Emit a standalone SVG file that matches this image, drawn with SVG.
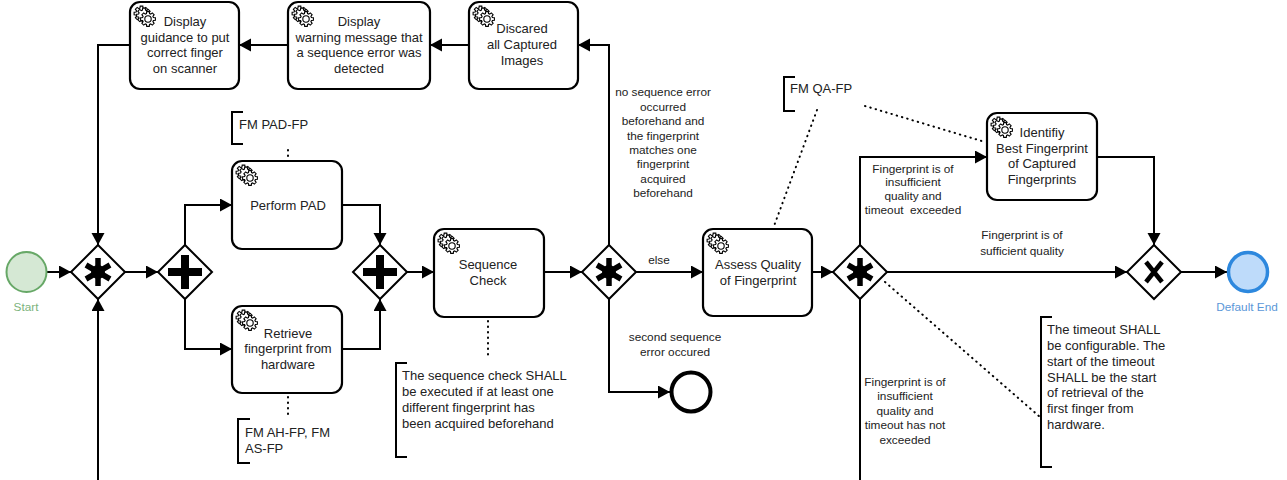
<svg xmlns="http://www.w3.org/2000/svg" width="1287" height="480" viewBox="0 0 1287 480">
<style>
text{font-family:"Liberation Sans",Arial,sans-serif;fill:#222}
.t{font-size:13px;text-anchor:middle}
.l{font-size:11.8px;text-anchor:middle}
.n{font-size:13px}
.task{fill:#fff;stroke:#000;stroke-width:2.2}
.gw{fill:#fff;stroke:#000;stroke-width:2}
.c{fill:none;stroke:#000;stroke-width:2;marker-end:url(#a)}
.d{fill:none;stroke:#000;stroke-width:2;stroke-linecap:round;stroke-dasharray:0.5 5}
.b{fill:none;stroke:#000;stroke-width:2}
</style>
<defs>
<marker id="a" markerUnits="userSpaceOnUse" markerWidth="13" markerHeight="14" refX="12" refY="6.5" orient="auto"><path d="M0 0L12 6.5L0 13Z" fill="#000"/></marker>
<path id="cog" d="M5.38 -1.54L7.39 -1.3L7.39 1.3L5.38 1.54L4.9 2.71L6.14 4.3L4.3 6.14L2.71 4.9L1.54 5.38L1.3 7.39L-1.3 7.39L-1.54 5.38L-2.71 4.9L-4.3 6.14L-6.14 4.3L-4.9 2.71L-5.38 1.54L-7.39 1.3L-7.39 -1.3L-5.38 -1.54L-4.9 -2.71L-6.14 -4.3L-4.3 -6.14L-2.71 -4.9L-1.54 -5.38L-1.3 -7.39L1.3 -7.39L1.54 -5.38L2.71 -4.9L4.3 -6.14L6.14 -4.3L4.9 -2.71Z" fill="#fff" stroke="#000" stroke-width="1.1"/>
<g id="gear"><use href="#cog" x="7.5" y="7.5"/><use href="#cog" x="10" y="9.5"/><use href="#cog" x="14" y="13"/><circle cx="14" cy="13" r="3.2" fill="#fff" stroke="#000" stroke-width="1.1"/></g>
<g id="star"><path d="M0 -14V14M-12 -7L12 7M-12 7L12 -7" fill="none" stroke="#000" stroke-width="5.5"/><circle r="7" fill="#000"/></g>
<path id="plus" d="M-4 -17H4V-4H17V4H4V17H-4V4H-17V-4H-4Z" fill="#000"/>
</defs>

<g id="connectors">
<path class="c" d="M47 272H71"/>
<path class="c" d="M125 272H158"/>
<path class="c" d="M185 245V205H232"/>
<path class="c" d="M185 299V349H232"/>
<path class="c" d="M342 205H380V245"/>
<path class="c" d="M342 349H380V299"/>
<path class="c" d="M407 272H434"/>
<path class="c" d="M544 272H582"/>
<path class="c" d="M636 272H703"/>
<path class="c" d="M812 272H833"/>
<path class="c" d="M887 272H1127"/>
<path class="c" d="M1181 272H1227"/>
<path class="c" d="M860 245V157H987"/>
<path class="c" d="M1097 157H1154V245"/>
<path class="c" d="M609 245V45H578"/>
<path class="c" d="M469 45H430"/>
<path class="c" d="M288 45H239"/>
<path class="c" d="M130 45H98V245"/>
<path class="c" d="M98 480V299"/>
<path class="c" d="M609 299V392H670"/>
<path class="b" d="M860 299V480"/>
<path class="d" d="M288 150V157"/>
<path class="d" d="M288 397V418"/>
<path class="d" d="M488 321V359"/>
<path class="d" d="M817 110L774 226"/>
<path class="d" d="M865 106L985 142"/>
<path class="d" d="M885 282L1040 417"/>
</g>

<g id="start"><circle cx="26.5" cy="272" r="20" fill="#d5e8d4" stroke="#67a867" stroke-width="2"/><text class="l" x="26" y="311" style="fill:#7cb37c">Start</text></g>
<g id="default-end"><circle cx="1248" cy="272" r="19.5" fill="#bedbfa" stroke="#2d88de" stroke-width="3.5"/><text class="l" x="1247" y="311" style="fill:#5b97d8">Default End</text></g>
<g id="end"><circle cx="691" cy="392" r="19.5" fill="#fff" stroke="#000" stroke-width="4"/></g>

<g id="gw-merge"><path class="gw" d="M98 245L125 272L98 299L71 272Z"/><use href="#star" x="98" y="272"/></g>
<g id="gw-split"><path class="gw" d="M185 245L212 272L185 299L158 272Z"/><use href="#plus" x="185" y="272"/></g>
<g id="gw-join"><path class="gw" d="M380 245L407 272L380 299L353 272Z"/><use href="#plus" x="380" y="272"/></g>
<g id="gw-seq"><path class="gw" d="M609 245L636 272L609 299L582 272Z"/><use href="#star" x="609" y="272"/></g>
<g id="gw-quality"><path class="gw" d="M860 245L887 272L860 299L833 272Z"/><use href="#star" x="860" y="272"/></g>
<g id="gw-x"><path class="gw" d="M1154 245L1181 272L1154 299L1127 272Z"/><path d="M1146 262L1162 282M1162 262L1146 282" stroke="#000" stroke-width="4.6" fill="none"/></g>

<g id="t-guidance"><rect class="task" x="130" y="2" width="109" height="87" rx="10"/><use href="#gear" x="134" y="6"/><text class="t" x="185" y="26">Display</text><text class="t" x="185" y="42">guidance to put</text><text class="t" x="185" y="57">correct finger</text><text class="t" x="185" y="73">on scanner</text></g>
<g id="t-warning"><rect class="task" x="288" y="2" width="142" height="87" rx="10"/><use href="#gear" x="292" y="6"/><text class="t" x="359" y="26">Display</text><text class="t" x="359" y="42">warning message that</text><text class="t" x="359" y="57">a sequence error was</text><text class="t" x="359" y="73">detected</text></g>
<g id="t-discard"><rect class="task" x="469" y="2" width="109" height="87" rx="10"/><use href="#gear" x="473" y="6"/><text class="t" x="522" y="33">Discared</text><text class="t" x="522" y="49">all Captured</text><text class="t" x="522" y="65">Images</text></g>
<g id="t-pad"><rect class="task" x="232" y="161" width="110" height="88" rx="10"/><use href="#gear" x="236" y="165"/><text class="t" x="288" y="210">Perform PAD</text></g>
<g id="t-retrieve"><rect class="task" x="232" y="306" width="110" height="87" rx="10"/><use href="#gear" x="236" y="310"/><text class="t" x="288" y="338">Retrieve</text><text class="t" x="288" y="353">fingerprint from</text><text class="t" x="288" y="369">hardware</text></g>
<g id="t-seq"><rect class="task" x="434" y="229" width="110" height="88" rx="10"/><use href="#gear" x="438" y="233"/><text class="t" x="488" y="269">Sequence</text><text class="t" x="488" y="285">Check</text></g>
<g id="t-quality"><rect class="task" x="703" y="229" width="109" height="87" rx="10"/><use href="#gear" x="707" y="233"/><text class="t" x="758" y="269">Assess Quality</text><text class="t" x="758" y="285">of Fingerprint</text></g>
<g id="t-best"><rect class="task" x="987" y="113" width="110" height="87" rx="10"/><use href="#gear" x="991" y="117"/><text class="t" x="1042" y="137">Identifiy</text><text class="t" x="1042" y="153">Best Fingerprint</text><text class="t" x="1042" y="168">of Captured</text><text class="t" x="1042" y="184">Fingerprints</text></g>

<g id="a-pad"><path class="b" d="M243 112H232V144H243"/><text class="n" x="239" y="129">FM PAD-FP</text></g>
<g id="a-ah"><path class="b" d="M250 419H238V463H250"/><text class="n" x="245" y="437">FM AH-FP, FM</text><text class="n" x="245" y="453">AS-FP</text></g>
<g id="a-seq"><path class="b" d="M407 363H396V457H407"/><text class="n" x="402" y="380">The sequence check SHALL</text><text class="n" x="402" y="396">be executed if at least one</text><text class="n" x="402" y="412">different fingerprint has</text><text class="n" x="402" y="428">been acquired beforehand</text></g>
<g id="a-qa"><path class="b" d="M795 77H784V111H795"/><text class="n" x="790" y="93">FM QA-FP</text></g>
<g id="a-timeout"><path class="b" d="M1052 317H1041V467H1052"/><text class="n" x="1047" y="334">The timeout SHALL</text><text class="n" x="1047" y="350">be configurable. The</text><text class="n" x="1047" y="366">start of the timeout</text><text class="n" x="1047" y="382">SHALL be the start</text><text class="n" x="1047" y="397">of retrieval of the</text><text class="n" x="1047" y="413">first finger from</text><text class="n" x="1047" y="429">hardware.</text></g>

<g id="labels">
<text class="l" x="663" y="96">no sequence error</text><text class="l" x="663" y="111">occurred</text><text class="l" x="663" y="125">beforehand and</text><text class="l" x="663" y="140">the fingerprint</text><text class="l" x="663" y="154">matches one</text><text class="l" x="663" y="168">fingerprint</text><text class="l" x="663" y="183">acquired</text><text class="l" x="663" y="197">beforehand</text>
<text class="l" x="659" y="264">else</text>
<text class="l" x="675" y="341">second sequence</text><text class="l" x="675" y="356">error occured</text>
<text class="l" x="913" y="173">Fingerprint is of</text><text class="l" x="913" y="186">insufficient</text><text class="l" x="913" y="200">quality and</text><text class="l" x="913" y="214" style="white-space:pre">timeout  exceeded</text>
<text class="l" x="1022" y="239">Fingerprint is of</text><text class="l" x="1022" y="255">sufficient quality</text>
<text class="l" x="905" y="386">Fingerprint is of</text><text class="l" x="905" y="400">insufficient</text><text class="l" x="905" y="415">quality and</text><text class="l" x="905" y="429">timeout has not</text><text class="l" x="905" y="444">exceeded</text>
</g>
</svg>
